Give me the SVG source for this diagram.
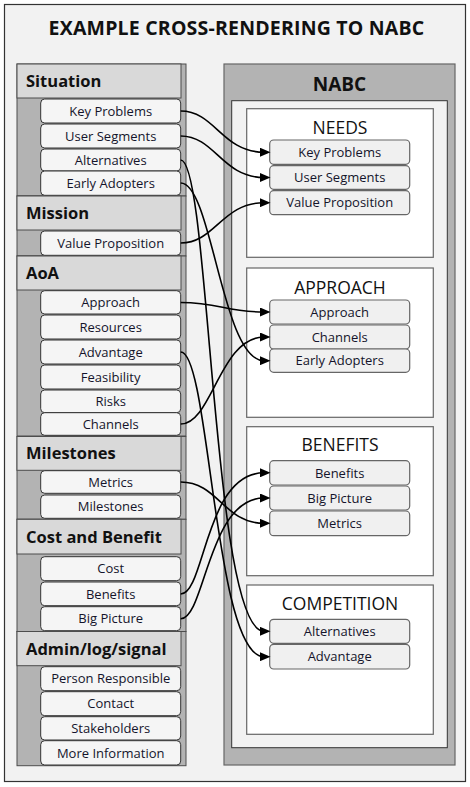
<svg xmlns="http://www.w3.org/2000/svg" width="470" height="787" viewBox="0 0 470 787">
<defs>
<style>
.frame{fill:#f2f2f2;stroke:#333;stroke-width:1.2}
.lc{fill:#b3b3b3;stroke:#4d4d4d;stroke-width:1}
.lh{fill:#d9d9d9;stroke:#4d4d4d;stroke-width:1}
.li{fill:#f5f5f5;stroke:#333;stroke-width:1}
.rc{fill:#b3b3b3;stroke:#666;stroke-width:1.2}
.rin{fill:#f2f2f2;stroke:#333;stroke-width:1}
.rp{fill:#fff;stroke:#666;stroke-width:1.2}
.ri{fill:#f0f0f0;stroke:#666;stroke-width:1.2}
text{font-family:"Open Sans","Liberation Sans",sans-serif;fill:#14142b}
.t{font-size:19.5px;font-weight:700;text-anchor:middle;fill:#111;letter-spacing:0.2px}
.h{font-size:16.5px;font-weight:700;fill:#111}
.it{font-size:13px;font-weight:500;text-anchor:middle}
.pt{font-size:17.5px;font-weight:400;text-anchor:middle;fill:#111}
.nb{font-size:19px;font-weight:700;text-anchor:middle;fill:#111}
.c{fill:none;stroke:#000;stroke-width:1.6}
</style>
<marker id="ah" markerUnits="userSpaceOnUse" markerWidth="11" markerHeight="9" refX="4" refY="4.5" orient="auto">
<path d="M0,0 L10.5,4.5 L0,9 z" fill="#000"/>
</marker>
</defs>
<rect class="frame" x="4.5" y="4.5" width="461" height="777"/>
<text class="t" x="236.5" y="35">EXAMPLE CROSS-RENDERING TO NABC</text>

<g id="situation">
<rect class="lc" x="17" y="64" width="169" height="132"/>
<rect class="lh" x="17" y="64" width="164" height="34"/>
<text class="h" x="26" y="86.8">Situation</text>
<rect class="li" x="40.7" y="99" width="140" height="24" rx="4"/>
<text class="it" x="110.7" y="115.6">Key Problems</text>
<rect class="li" x="40.7" y="124" width="140" height="24" rx="4"/>
<text class="it" x="110.7" y="140.6">User Segments</text>
<rect class="li" x="40.7" y="149" width="140" height="22" rx="4"/>
<text class="it" x="110.7" y="164.6">Alternatives</text>
<rect class="li" x="40.7" y="171" width="140" height="24.3" rx="4"/>
<text class="it" x="110.7" y="187.7">Early Adopters</text>
</g>

<g id="mission">
<rect class="lc" x="17" y="196" width="169" height="60"/>
<rect class="lh" x="17" y="196" width="164" height="34"/>
<text class="h" x="26" y="218.8">Mission</text>
<rect class="li" x="40.7" y="231" width="140" height="24.3" rx="4"/>
<text class="it" x="110.7" y="247.7">Value Proposition</text>
</g>

<g id="aoa">
<rect class="lc" x="17" y="256" width="169" height="180"/>
<rect class="lh" x="17" y="256" width="164" height="34"/>
<text class="h" x="26" y="278.8">AoA</text>
<rect class="li" x="40.7" y="290.7" width="140" height="23.3" rx="4"/>
<text class="it" x="110.7" y="307">Approach</text>
<rect class="li" x="40.7" y="315" width="140" height="24" rx="4"/>
<text class="it" x="110.7" y="331.6">Resources</text>
<rect class="li" x="40.7" y="340" width="140" height="24" rx="4"/>
<text class="it" x="110.7" y="356.6">Advantage</text>
<rect class="li" x="40.7" y="365" width="140" height="24" rx="4"/>
<text class="it" x="110.7" y="381.6">Feasibility</text>
<rect class="li" x="40.7" y="390" width="140" height="22.7" rx="4"/>
<text class="it" x="110.7" y="406">Risks</text>
<rect class="li" x="40.7" y="412.7" width="140" height="22.6" rx="4"/>
<text class="it" x="110.7" y="428.6">Channels</text>
</g>

<g id="milestones">
<rect class="lc" x="17" y="436.5" width="169" height="82.8"/>
<rect class="lh" x="17" y="436.5" width="164" height="33.8"/>
<text class="h" x="26" y="459.2">Milestones</text>
<rect class="li" x="40.7" y="470.7" width="140" height="22.6" rx="4"/>
<text class="it" x="110.7" y="486.6">Metrics</text>
<rect class="li" x="40.7" y="495" width="140" height="23.3" rx="4"/>
<text class="it" x="110.7" y="511.3">Milestones</text>
</g>

<g id="cost-benefit">
<rect class="lc" x="17" y="519.3" width="169" height="112.2"/>
<rect class="lh" x="17" y="519.3" width="164" height="34.7"/>
<text class="h" x="26" y="542.5">Cost and Benefit</text>
<rect class="li" x="40.7" y="556.7" width="140" height="24" rx="4"/>
<text class="it" x="110.7" y="573.3">Cost</text>
<rect class="li" x="40.7" y="582" width="140" height="23.7" rx="4"/>
<text class="it" x="110.7" y="598.5">Benefits</text>
<rect class="li" x="40.7" y="606.7" width="140" height="24" rx="4"/>
<text class="it" x="110.7" y="623.3">Big Picture</text>
</g>

<g id="admin">
<rect class="lc" x="17" y="631.5" width="169" height="134.2"/>
<rect class="lh" x="17" y="631.5" width="164" height="34.2"/>
<text class="h" x="26" y="654.5">Admin/log/signal</text>
<rect class="li" x="40.7" y="666.7" width="140" height="24" rx="4"/>
<text class="it" x="110.7" y="683.3">Person Responsible</text>
<rect class="li" x="40.7" y="691.7" width="140" height="24" rx="4"/>
<text class="it" x="110.7" y="708.3">Contact</text>
<rect class="li" x="40.7" y="716.7" width="140" height="23.3" rx="4"/>
<text class="it" x="110.7" y="733">Stakeholders</text>
<rect class="li" x="40.7" y="740.7" width="140" height="24.3" rx="4"/>
<text class="it" x="110.7" y="757.5">More Information</text>
</g>

<g id="nabc">
<rect class="rc" x="224" y="64" width="231" height="701"/>
<text class="nb" x="339.5" y="91">NABC</text>
<rect class="rin" x="231.7" y="100.7" width="215.6" height="647"/>
</g>

<g id="needs">
<rect class="rp" x="246.7" y="108.7" width="186.6" height="148.6"/>
<text class="pt" x="340" y="133.5">NEEDS</text>
<rect class="ri" x="269.7" y="140" width="140" height="24.3" rx="4"/>
<text class="it" x="339.7" y="156.8">Key Problems</text>
<rect class="ri" x="269.7" y="165.7" width="140" height="23.6" rx="4"/>
<text class="it" x="339.7" y="182.1">User Segments</text>
<rect class="ri" x="269.7" y="190.7" width="140" height="24" rx="4"/>
<text class="it" x="339.7" y="207.3">Value Proposition</text>
</g>

<g id="approach">
<rect class="rp" x="246.7" y="268" width="186.6" height="149.3"/>
<text class="pt" x="340" y="293.5">APPROACH</text>
<rect class="ri" x="269.7" y="300" width="140" height="24" rx="4"/>
<text class="it" x="339.7" y="316.6">Approach</text>
<rect class="ri" x="269.7" y="325" width="140" height="24" rx="4"/>
<text class="it" x="339.7" y="341.6">Channels</text>
<rect class="ri" x="269.7" y="349" width="140" height="23.3" rx="4"/>
<text class="it" x="339.7" y="365.3">Early Adopters</text>
</g>

<g id="benefits">
<rect class="rp" x="246.7" y="426.7" width="186.6" height="149"/>
<text class="pt" x="340" y="451.2">BENEFITS</text>
<rect class="ri" x="269.7" y="460.7" width="140" height="24.3" rx="4"/>
<text class="it" x="339.7" y="477.5">Benefits</text>
<rect class="ri" x="269.7" y="486" width="140" height="24" rx="4"/>
<text class="it" x="339.7" y="502.6">Big Picture</text>
<rect class="ri" x="269.7" y="511" width="140" height="24.7" rx="4"/>
<text class="it" x="339.7" y="527.9">Metrics</text>
</g>

<g id="competition">
<rect class="rp" x="246.7" y="585" width="186.6" height="149.3"/>
<text class="pt" x="340" y="610.2">COMPETITION</text>
<rect class="ri" x="269.7" y="619.3" width="140" height="24" rx="4"/>
<text class="it" x="339.7" y="635.9">Alternatives</text>
<rect class="ri" x="269.7" y="644.3" width="140" height="24.7" rx="4"/>
<text class="it" x="339.7" y="661.2">Advantage</text>
</g>

<g id="connectors">
<path class="c" marker-end="url(#ah)" d="M180.7,111 C215,111 222,152.2 264,152.2"/>
<path class="c" marker-end="url(#ah)" d="M180.7,136 C215,136 222,177.5 264,177.5"/>
<path class="c" marker-end="url(#ah)" d="M180.7,160 C210,160 212,631.3 264,631.3"/>
<path class="c" marker-end="url(#ah)" d="M180.7,183 C212,183 222,360.7 264,360.7"/>
<path class="c" marker-end="url(#ah)" d="M180.7,243 C215,243 222,202.7 264,202.7"/>
<path class="c" marker-end="url(#ah)" d="M180.7,302.5 C220,302.5 225,312 264,312"/>
<path class="c" marker-end="url(#ah)" d="M180.7,352 C210,352 214,656.7 264,656.7"/>
<path class="c" marker-end="url(#ah)" d="M180.7,424 C212,424 220,337 264,337"/>
<path class="c" marker-end="url(#ah)" d="M180.7,482 C218,482 224,523.3 264,523.3"/>
<path class="c" marker-end="url(#ah)" d="M180.7,594 C205,594 205,472.8 264,472.8"/>
<path class="c" marker-end="url(#ah)" d="M180.7,618.7 C205,618.7 208,498 264,498"/>
</g>
</svg>
